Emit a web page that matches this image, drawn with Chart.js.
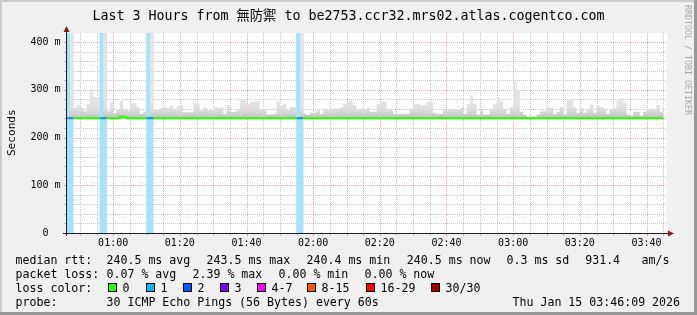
<!DOCTYPE html>
<html><head><meta charset="utf-8">
<script src="https://cdn.jsdelivr.net/npm/chart.js@4/dist/chart.umd.min.js"></script>
<style>html,body{margin:0;padding:0;background:#f0f0f0;overflow:hidden}canvas{display:block}</style>
</head><body>
<canvas id="c" width="697" height="315"></canvas>
<script>
// ---------------- data ----------------
const windowStart = '00:46:09';
const windowEnd = '03:46:09';
const firstBin = '00:46';            // one bin per minute (60 s step)
// highest ping of each minute (the top of the grey "smoke"), ms
const smokeMax = [
 240,500,262,268,262,255,270,301,285,285,
 240,500,255,275,251,258,277,258,256,270,
 272,263,250,255,240,500,258,258,262,264,
 262,266,258,266,268,253,253,253,274,271,
 257,263,257,257,264,263,263,250,268,254,
 254,257,278,280,270,275,275,277,259,259,
 249,249,250,276,268,271,257,264,264,240,
 500,250,247,252,252,257,250,257,257,257,
 261,261,263,271,275,278,268,257,261,257,
 263,254,254,270,276,276,257,257,250,250,
 250,250,250,261,270,270,268,268,275,275,
 252,250,250,257,260,260,260,257,263,250,
 271,289,270,248,257,248,248,260,270,285,
 276,260,250,263,317,300,254,248,244,244,
 244,248,255,255,263,263,250,254,264,248,
 278,278,264,252,261,252,261,270,252,266,
 264,261,250,260,261,277,282,273,248,246,
 254,254,246,254,259,261,259,268,254
];
// median rtt of each minute, ms
const medianRtt = [
 240.5,240.5,240.5,240.5,240.5,240.5,240.5,240.5,240.5,240.5,
 240.5,240.5,240.5,240.5,240.5,240.5,243.5,242.5,240.5,240.5,
 240.5,240.5,240.5,240.5,240.5,240.5,240.5,240.5,240.5,240.5,
 240.5,240.5,240.5,240.5,240.5,240.5,240.5,240.5,240.5,240.5,
 240.5,240.5,240.5,240.5,240.5,240.5,240.5,240.5,240.5,240.5,
 240.5,240.5,240.5,240.5,240.5,240.5,240.5,240.5,240.5,240.5,
 240.5,240.5,240.5,240.5,240.5,240.5,240.5,240.5,240.5,240.5,
 240.5,240.5,240.5,240.5,240.5,240.5,240.5,240.5,240.5,240.5,
 240.5,240.5,240.5,240.5,240.5,240.5,240.5,240.5,240.5,240.5,
 240.5,240.5,240.5,240.5,240.5,240.5,240.5,240.5,240.5,240.5,
 240.5,240.5,240.5,240.5,240.5,240.5,240.5,240.5,240.5,240.5,
 240.5,240.5,240.5,240.5,240.5,240.5,240.5,240.5,240.5,240.5,
 240.5,240.5,240.5,240.5,240.5,240.5,240.5,240.5,240.5,240.5,
 240.5,240.5,240.5,240.5,240.5,240.5,240.5,240.5,240.5,240.5,
 240.5,240.5,240.5,240.5,240.5,240.5,240.5,240.5,240.5,240.5,
 240.5,240.5,240.5,240.5,240.5,240.5,240.5,240.5,240.5,240.5,
 240.5,240.5,240.5,240.5,240.5,240.5,240.5,240.5,240.5,240.5,
 240.5,240.5,240.5,240.5,240.5,240.5,240.5,240.5,240.5
];
// minutes with lost pings and how many of 30 were lost
const lossMinutes = ['00:46','00:47','00:56','00:57','01:10','01:11','01:55','01:56'];
const lossPings   = [1,1,1,1,1,1,1,1];
const xTickLabels = ['01:00','01:20','01:40','02:00','02:20','02:40','03:00','03:20','03:40'];
const yTickValues = [0,100,200,300,400];
const yTickLabels = ['0','100 m','200 m','300 m','400 m'];
const yTop = 419;
const smokeBase = 240;

const titleText = 'Last 3 Hours from 無防禦 to be2753.ccr32.mrs02.atlas.cogentco.com';
const lossLegend = [['0','#26ff00'],['1','#00b8ff'],['2','#0059ff'],['3','#7e00ff'],['4-7','#ff00ff'],['8-15','#ff5500'],['16-29','#ff0000'],['30/30','#a10000']];

// ---------------- helpers ----------------
const toMin = s => { const p = s.split(':').map(Number); return p[0]*60 + p[1] + (p[2]||0)/60; };
const xMin = toMin(windowStart), xMax = toMin(windowEnd);
const bin0 = toMin(firstBin);
const binStart = smokeMax.map((_, i) => bin0 + i);
const binEnd = bin0 + smokeMax.length;
const lossIdx = new Set(lossMinutes.map(m => toMin(m) - bin0));

const MONO = '"DejaVu Sans Mono", "Noto Sans CJK TC", monospace';
const GREEN = '#26ff00';
const LOSSLINE = '#1a8be6';

const smokeData = binStart.map((t, i) => ({x: t, y: smokeMax[i]})).concat([{x: binEnd, y: smokeMax[smokeMax.length-1]}]);
const medianData = binStart.map((t, i) => ({x: t, y: medianRtt[i]})).concat([{x: binEnd, y: medianRtt[medianRtt.length-1]}]);
const lossData = lossMinutes.map((m, i) => ({x: toMin(m) + 0.5, y: [0, yTop], n: lossPings[i]}));

function smokeFill(context) {
  const chart = context.chart;
  const area = chart.chartArea;
  if (!area) return '#e2e2e2';
  const y = chart.scales.y;
  const g = chart.ctx.createLinearGradient(0, y.getPixelForValue(smokeBase), 0, y.getPixelForValue(smokeBase + 40));
  g.addColorStop(0, '#b4b4b4');
  g.addColorStop(0.12, '#c8c8c8');
  g.addColorStop(0.35, '#d8d8d8');
  g.addColorStop(0.6, '#e1e1e1');
  g.addColorStop(1, '#e4e4e4');
  return g;
}

const frame = {
  id: 'frame',
  beforeDraw(chart) {
    const c = chart.ctx, W = chart.width, H = chart.height, a = chart.chartArea;
    c.save();
    c.fillStyle = '#f0f0f0'; c.fillRect(0, 0, W, H);
    c.fillStyle = '#cbcbcb'; c.fillRect(0, 0, W, 2); c.fillRect(0, 0, 2, H);
    c.fillStyle = '#999999'; c.fillRect(0, H-3, W, 3); c.fillRect(W-3, 0, 3, H);
    c.fillStyle = '#ffffff'; c.fillRect(a.left, a.top, a.right - a.left, a.bottom - a.top);
    c.restore();
  },
  beforeDatasetsDraw(chart) {
    const c = chart.ctx, a = chart.chartArea, xs = chart.scales.x, ys = chart.scales.y;
    c.save();
    c.lineWidth = 1;
    const minorC = 'rgba(143,143,143,0.5)', majorC = 'rgba(222,80,80,0.5)';
    // vertical grid every 5 min, major every 20 min
    for (let m = Math.ceil(xMin/5)*5; m <= xMax; m += 5) {
      const px = Math.round(xs.getPixelForValue(m)) + 0.5;
      const major = m % 20 === 0;
      c.strokeStyle = major ? majorC : minorC;
      c.setLineDash([1,1]);
      c.beginPath(); c.moveTo(px, a.top); c.lineTo(px, a.bottom); c.stroke();
      c.setLineDash([]);
      c.beginPath(); c.moveTo(px, a.bottom); c.lineTo(px, a.bottom + 3); c.stroke();
    }
    for (let v = 20; v <= yTop; v += 20) {
      const py = Math.round(ys.getPixelForValue(v)) + 0.5;
      const major = v % 100 === 0;
      c.strokeStyle = major ? majorC : minorC;
      c.setLineDash([1,1]);
      c.beginPath(); c.moveTo(a.left, py); c.lineTo(a.right, py); c.stroke();
      c.setLineDash([]);
      c.beginPath(); c.moveTo(a.left - 3, py); c.lineTo(a.left, py); c.stroke();
    }
    c.restore();
  },
  afterDatasetsDraw(chart) {
    const c = chart.ctx, a = chart.chartArea, ys = chart.scales.y;
    c.save();
    // axes
    c.strokeStyle = '#1f1f1f'; c.lineWidth = 1;
    c.beginPath(); c.moveTo(a.left - 4, a.bottom + 0.5); c.lineTo(a.right + 2, a.bottom + 0.5); c.stroke();
    c.beginPath(); c.moveTo(a.left - 0.5, a.bottom + 3); c.lineTo(a.left - 0.5, a.top - 2); c.stroke();
    c.fillStyle = '#8b1a1a';
    c.beginPath(); c.moveTo(a.left - 0.5, a.top - 7); c.lineTo(a.left - 3.5, a.top - 1); c.lineTo(a.left + 2.5, a.top - 1); c.closePath(); c.fill();
    c.beginPath(); c.moveTo(a.right + 7, a.bottom + 0.5); c.lineTo(a.right + 1, a.bottom - 2.5); c.lineTo(a.right + 1, a.bottom + 3.5); c.closePath(); c.fill();

    // the unit-less "0" label sits two character cells left of the others
    c.font = '10px ' + MONO; c.fillStyle = '#000'; c.textAlign = 'right'; c.textBaseline = 'middle';
    c.fillText(yTickLabels[0], a.left - 6.5 - 12, ys.getPixelForValue(yTickValues[0]));

    c.textBaseline = 'alphabetic';
    // title
    c.fillStyle = '#000';
    c.font = '13.3px ' + MONO; c.textAlign = 'center';
    c.fillText(titleText, 348.5, 20);
    // watermark
    c.save(); c.translate(684.5, 5); c.rotate(Math.PI/2);
    c.font = '8.3px ' + MONO; c.fillStyle = '#a8a8a8'; c.textAlign = 'left';
    c.fillText('RRDTOOL / TOBI OETIKER', 0, 0);
    c.restore();
    // y title
    c.save(); c.translate(14.5, 132.7); c.rotate(-Math.PI/2);
    c.font = '11.1px ' + MONO; c.fillStyle = '#000'; c.textAlign = 'center';
    c.fillText('Seconds', 0, 0);
    c.restore();
    // legend
    c.font = '11.6px ' + MONO; c.fillStyle = '#000'; c.textAlign = 'left';
    const rows = [
      [263.5, [[16,'median rtt:'],[107,'240.5 ms avg'],[207,'243.5 ms max'],[307,'240.4 ms min'],[407.3,'240.5 ms now'],[507,'0.3 ms sd'],[585.7,'931.4'],[642,'am/s']]],
      [277.5, [[16,'packet loss:'],[107,'0.07 % avg'],[193,'2.39 % max'],[279,'0.00 % min'],[365,'0.00 % now']]],
      [291.5, [[16,'loss color:']]],
      [305.5, [[16,'probe:'],[107,'30 ICMP Echo Pings (56 Bytes) every 60s'],[513,'Thu Jan 15 03:46:09 2026']]]
    ];
    rows.forEach(([y, items]) => items.forEach(([x, s]) => c.fillText(s, x - 0.5, y)));
    const boxX = [108.3,145.7,182.7,220,257.3,306.7,365.7,430.7];
    lossLegend.forEach(([lab, col], i) => {
      const bx = Math.round(boxX[i]);
      c.fillStyle = col; c.fillRect(bx, 283, 8, 8);
      c.strokeStyle = '#000'; c.lineWidth = 1; c.strokeRect(bx + 0.5, 283.5, 8, 8);
      c.fillStyle = '#000'; c.fillText(lab, bx + 14.5, 291.5);
    });
    c.restore();
  }
};

new Chart(document.getElementById('c'), {
  data: {
    datasets: [
      { type: 'line', data: medianData, order: 0, stepped: true, borderWidth: 2, pointRadius: 0,
        borderColor: GREEN, borderCapStyle: 'butt', fill: false,
        segment: { borderColor: s => lossIdx.has(s.p0DataIndex) ? LOSSLINE : GREEN } },
      { type: 'line', data: smokeData, order: 1, stepped: true, borderWidth: 0, borderColor: 'rgba(0,0,0,0)',
        pointRadius: 0, fill: { value: smokeBase }, backgroundColor: smokeFill },
      { type: 'bar', data: lossData, order: 2, backgroundColor: '#a6e3fb', borderWidth: 0,
        barPercentage: 1.0, categoryPercentage: 1.0, grouped: false }
    ]
  },
  options: {
    responsive: false, animation: false, devicePixelRatio: 1, events: [],
    layout: { autoPadding: false, padding: { left: 0, top: 33, right: 30, bottom: 62 } },
    plugins: { legend: { display: false }, tooltip: { enabled: false } },
    scales: {
      x: { type: 'linear', offset: false, min: xMin, max: xMax,
        grid: { display: false, drawTicks: false, tickLength: 0, offset: false }, border: { display: false },
        afterBuildTicks: s => { s.ticks = xTickLabels.map(l => ({ value: toMin(l) })); },
        afterFit: s => { s.height = 20; },
        ticks: { autoSkip: false, maxRotation: 0, padding: 4, color: '#000', font: { family: MONO, size: 10 },
          callback: (v, i) => xTickLabels[i] } },
      y: { type: 'linear', min: 0, max: yTop,
        grid: { display: false, drawTicks: false, tickLength: 0 }, border: { display: false },
        afterBuildTicks: s => { s.ticks = yTickValues.map(v => ({ value: v })); },
        afterFit: s => { s.width = 67; },
        ticks: { padding: 6.5, font: { family: MONO, size: 10 },
          color: ctx => ctx.index === 0 ? 'rgba(0,0,0,0)' : '#000',
          callback: (v, i) => yTickLabels[i] } }
    }
  },
  plugins: [frame]
});
</script>
</body></html>
